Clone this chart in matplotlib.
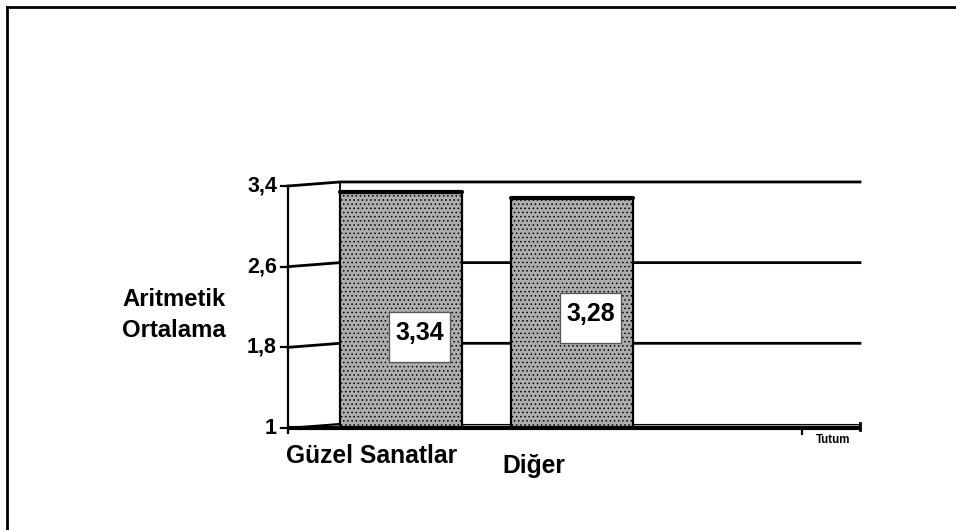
import matplotlib
matplotlib.use('Agg')
import matplotlib.pyplot as plt
from matplotlib.transforms import blended_transform_factory
from matplotlib.lines import Line2D
from matplotlib.patches import Rectangle

categories = ['Güzel Sanatlar', 'Diğer']
values = [3.34, 3.28]
value_labels = ['3,34', '3,28']
y_ticks = [1, 1.8, 2.6, 3.4]
y_tick_labels = ['1', '1,8', '2,6', '3,4']
y_label = 'Aritmetik\nOrtalama'
depth_label = 'Tutum'

plt.rcParams['font.family'] = ['Liberation Sans', 'DejaVu Sans']
plt.rcParams['hatch.color'] = '#8a8a8a'
plt.rcParams['hatch.linewidth'] = 0.6

W, H = 956, 530
fig = plt.figure(figsize=(W / 100, H / 100), dpi=100)
fig.patch.set_facecolor('white')

# outer frame (top and left)
fig.add_artist(Line2D([7 / W, 7 / W], [0, 1 - 7 / H], transform=fig.transFigure,
                      color='black', lw=2))
fig.add_artist(Line2D([7 / W, 1], [1 - 7 / H, 1 - 7 / H], transform=fig.transFigure,
                      color='black', lw=2))

ax = fig.add_axes([288 / W, (H - 428) / H, 572 / W, 242 / H])
ax.set_xlim(-0.661, 2.684)
ax.set_ylim(y_ticks[0], y_ticks[-1])
ax.axis('off')

bt = blended_transform_factory(ax.transAxes, ax.transData)
ddx = 52 / 572     # depth offset (axes fraction)
ddy = 0.04         # depth offset (data units)
ymin, ymax = y_ticks[0], y_ticks[-1]

# back wall gridlines with slanted connectors from the front axis
for v in y_ticks[1:]:
    ax.plot([0, ddx, 1], [v, v + ddy, v + ddy], transform=bt, color='black',
            lw=2, clip_on=False, zorder=1, solid_joinstyle='miter')
# back wall left edge
ax.plot([ddx, ddx], [ymin + ddy, ymax + ddy], transform=bt, color='black',
        lw=1.3, clip_on=False, zorder=1)

# floor
ax.fill([0, 1, 1, ddx], [ymin, ymin, ymin + ddy, ymin + ddy], transform=bt,
        facecolor='#b0b0b0', edgecolor='none', hatch='.....', clip_on=False, zorder=1)
ax.plot([ddx, 1], [ymin + ddy, ymin + ddy], transform=bt, color='black', lw=0.8,
        clip_on=False, zorder=1)
ax.plot([0, ddx], [ymin, ymin + ddy], transform=bt, color='black', lw=1.5,
        clip_on=False, zorder=1)
ax.plot([1, 1], [ymin - 0.02, ymin + ddy + 0.01], transform=bt, color='black',
        lw=2, clip_on=False, zorder=4)

# bars
x = list(range(len(categories)))
heights = [v - ymin for v in values]
bw = 0.713
ax.bar(x, heights, bottom=ymin, width=bw, facecolor='#adadad', edgecolor='black',
       lw=1.6, hatch='....', zorder=3, clip_on=False)
for xi, v in zip(x, values):
    ax.plot([xi - bw / 2, xi + bw / 2], [v, v], color='black', lw=3,
            solid_capstyle='round', zorder=4, clip_on=False)

# front floor line
ax.plot([0, 1], [ymin, ymin], transform=bt, color='black', lw=3, clip_on=False,
        zorder=5, solid_capstyle='butt')

# front axis + ticks
ax.plot([0, 0], [ymin - 0.05, ymax], transform=bt, color='black', lw=1.6,
        clip_on=False, zorder=5)
for v, lab in zip(y_ticks, y_tick_labels):
    ax.plot([-7 / 572, 0], [v, v], transform=bt, color='black', lw=1.6,
            clip_on=False, zorder=5)
    ax.text(-11 / 572, v, lab, transform=bt, ha='right', va='center',
            fontsize=15.5, fontweight='bold', color='black')

# depth-axis tick and label
ax.plot([(802 - 288) / 572] * 2, [ymin, ymin - 0.06], transform=bt, color='black',
        lw=1.6, clip_on=False, zorder=5)
fig.text(833 / W, 1 - 440 / H, depth_label, ha='center', va='center', fontsize=8.3,
         fontweight='bold')

# value labels in boxes
label_y = [1.903, 2.091]
box_w, box_h = 0.357, 0.496
for xi, ly, lab in zip(x, label_y, value_labels):
    cx = xi + 0.11
    ax.add_patch(Rectangle((cx - box_w / 2, ly - box_h / 2), box_w, box_h,
                           facecolor='white', edgecolor='#555555', lw=0.9, zorder=6))
    ax.text(cx, ly + 0.04, lab, ha='center', va='center', fontsize=18,
            fontweight='bold', zorder=7)

# category labels (staggered)
cat_pos = [(372, 456), (534, 466)]
for (px, py), c in zip(cat_pos, categories):
    fig.text(px / W, 1 - py / H, c, ha='center', va='center', fontsize=17.7,
             fontweight='bold')

# y-axis title
fig.text(122 / W, 1 - 315 / H, y_label, ha='left', va='center', fontsize=17.2,
         fontweight='bold', linespacing=1.45)

fig.savefig('out.png', dpi=100)
